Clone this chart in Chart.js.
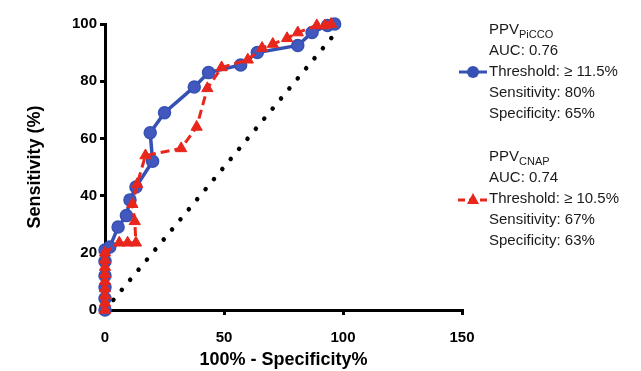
<!DOCTYPE html>
<html>
<head>
<meta charset="utf-8">
<script src="https://cdn.jsdelivr.net/npm/chart.js@4.4.1/dist/chart.umd.min.js"></script>
<style>
  body { margin: 0; background: #fff; }
  canvas { display: block; }
</style>
</head>
<body>
<canvas id="chart" width="641" height="371"></canvas>
<script>
// ROC curves, x = 100% - specificity, y = sensitivity
const piccoX = [0, 0, 0, 0, 0, 0, 2, 5.5, 9, 10.5, 13, 20, 19, 25, 37.5, 43.5, 57, 64, 81, 87, 93.5, 96.5];
const piccoY = [0, 4, 8, 12, 17, 21, 22, 29, 33, 38.5, 43, 52, 62, 69, 78, 83, 85.7, 90, 92.5, 97, 99.5, 100];

const cnapX = [0, 0, 0, 0, 0, 0, 0, 0, 0, 6, 9.5, 13, 12.5, 11.5, 13.5, 17, 32, 38.5, 43, 49, 60, 66, 70.5, 76.5, 81, 89, 92.5, 95];
const cnapY = [0, 2.5, 5, 7.5, 10, 12.5, 15, 17.5, 20, 23.5, 23.5, 23.5, 31, 37, 44, 54, 56.5, 64, 77.5, 84.8, 87.5, 91.6, 93, 95, 97, 99.5, 99.5, 100];

const refX = [0, 97];
const refY = [0, 97];

const xTicks = [0, 50, 100, 150];
const yTicks = [0, 20, 40, 60, 80, 100];

const legendPicco = ["AUC: 0.76", "Threshold: \u2265 11.5%", "Sensitivity: 80%", "Specificity: 65%"];
const legendCnap = ["AUC: 0.74", "Threshold: \u2265 10.5%", "Sensitivity: 67%", "Specificity: 63%"];

const BLUE = '#3651b4';
const RED = '#e8261c';

function toPoints(xs, ys){
    let pts = [];
    for(let i=0;i<xs.length;i++){
        pts.push({x: xs[i], y: ys[i]});
    }
    return pts;
}

const tickFont = {family: "'Liberation Sans', Arial, sans-serif", size: 15, weight: 'bold'};
const titleFont = {family: "'Liberation Sans', Arial, sans-serif", size: 18, weight: 'bold'};

// draws the text legend on the right side
const sideLegend = {
    id: 'sideLegend',
    afterDraw(chart){
        const ctx = chart.ctx;
        ctx.save();
        const tx = 489;
        const fam = "'Liberation Sans', Arial, sans-serif";
        ctx.fillStyle = '#1a1a1a';
        ctx.textBaseline = 'middle';
        ctx.textAlign = 'left';

        function block(top, sub, lines){
            ctx.font = '15px ' + fam;
            ctx.fillText('PPV', tx, top);
            let w = ctx.measureText('PPV').width;
            ctx.font = '11px ' + fam;
            ctx.fillText(sub, tx + w, top + 5);
            ctx.font = '15px ' + fam;
            for(let i=0;i<lines.length;i++){
                ctx.fillText(lines[i], tx, top + 21 + i * 21);
            }
        }
        block(30, 'PiCCO', legendPicco);
        block(157, 'CNAP', legendCnap);

        // blue marker
        ctx.strokeStyle = BLUE;
        ctx.lineWidth = 3;
        ctx.beginPath();
        ctx.moveTo(459, 72);
        ctx.lineTo(487, 72);
        ctx.stroke();
        ctx.fillStyle = BLUE;
        ctx.beginPath();
        ctx.arc(473, 72, 6, 0, Math.PI * 2);
        ctx.fill();

        // red marker
        ctx.strokeStyle = RED;
        ctx.setLineDash([7, 4]);
        ctx.beginPath();
        ctx.moveTo(458, 200);
        ctx.lineTo(488, 200);
        ctx.stroke();
        ctx.setLineDash([]);
        ctx.fillStyle = RED;
        ctx.beginPath();
        ctx.moveTo(473, 193);
        ctx.lineTo(479, 204);
        ctx.lineTo(467, 204);
        ctx.closePath();
        ctx.fill();
        ctx.restore();
    }
};

const ctx = document.getElementById('chart').getContext('2d');
const myChart = new Chart(ctx, {
    type: 'scatter',
    data: {
        datasets: [{
            label: 'PPV CNAP',
            data: toPoints(cnapX, cnapY),
            showLine: true,
            borderColor: RED,
            backgroundColor: RED,
            borderWidth: 3,
            borderDash: [9, 5],
            pointStyle: 'triangle',
            pointRadius: 6.5,
            pointBorderWidth: 1,
            clip: false,
            order: 1
        }, {
            label: 'PPV PiCCO',
            data: toPoints(piccoX, piccoY),
            showLine: true,
            borderColor: BLUE,
            backgroundColor: '#4258bf',
            pointBorderColor: BLUE,
            borderWidth: 3.5,
            pointRadius: 6,
            pointBorderWidth: 1.5,
            clip: false,
            order: 2
        }, {
            label: 'reference',
            data: toPoints(refX, refY),
            showLine: true,
            borderColor: '#000',
            borderWidth: 4.5,
            borderDash: [0.1, 13],
            borderCapStyle: 'round',
            pointRadius: 0,
            clip: false,
            order: 3
        }]
    },
    options: {
        responsive: false,
        animation: false,
        devicePixelRatio: 1,
        layout: {padding: {left: 0, right: 179, top: 24, bottom: 0}},
        plugins: {
            legend: {display: false},
            tooltip: {enabled: false}
        },
        scales: {
            x: {
                type: 'linear',
                min: 0,
                max: 150,
                afterBuildTicks: s => { s.ticks = xTicks.map(v => ({value: v})); },
                afterFit: s => { s.height = 61; },
                grid: {drawOnChartArea: false, drawTicks: true, tickLength: 5, color: '#000', lineWidth: 3},
                border: {color: '#000', width: 3},
                ticks: {color: '#000', font: tickFont, padding: 14, maxRotation: 0},
                title: {display: true, text: '100% - Specificity%', color: '#000', font: titleFont, padding: {top: 0, bottom: 0}}
            },
            y: {
                min: 0,
                max: 100,
                afterBuildTicks: s => { s.ticks = yTicks.map(v => ({value: v})); },
                afterFit: s => { s.width = 105; },
                grid: {drawOnChartArea: false, drawTicks: true, tickLength: 5, color: '#000', lineWidth: 3},
                border: {color: '#000', width: 3},
                ticks: {color: '#000', font: tickFont, padding: 3},
                title: {display: true, text: 'Sensitivity (%)', color: '#000', font: titleFont, padding: {top: 24, bottom: 0}}
            }
        }
    },
    plugins: [sideLegend]
});
</script>
</body>
</html>
